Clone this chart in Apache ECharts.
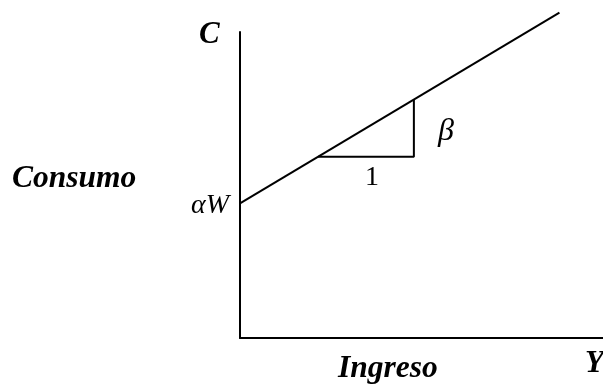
<!DOCTYPE html>
<html>
<head>
<meta charset="utf-8">
<script src="https://cdn.jsdelivr.net/npm/echarts@6/dist/echarts.min.js"></script>
<style>
  html, body { margin: 0; padding: 0; background: #fff; }
  #chart { width: 603px; height: 385px; }
</style>
</head>
<body>
<div id="chart"></div>
<script>
// función de consumo C = αW + βY (unidades arbitrarias, ejes 0..100)
var consumoX = [0, 88];
var consumoY = [44, 106.3];
// triángulo de la pendiente: base "1", altura "β"
var trianguloX = [21.5, 47.9, 47.9];
var trianguloY = [59.2, 59.2, 77.9];

var serif = '"Liberation Serif", "DejaVu Serif", serif';

function pares(xs, ys){
  return xs.map(function(x, i){ return [x, ys[i]]; });
}

var chart = echarts.init(document.getElementById('chart'), null, { renderer: 'canvas' });

chart.setOption({
  animation: false,
  grid: { left: 240, right: 0, top: 32, bottom: 47 },
  xAxis: {
    type: 'value', min: 0, max: 100,
    axisLine: { show: true, lineStyle: { color: '#000', width: 2 } },
    axisTick: { show: false }, axisLabel: { show: false }, splitLine: { show: false }
  },
  yAxis: {
    type: 'value', min: 0, max: 100,
    axisLine: { show: true, lineStyle: { color: '#000', width: 2 } },
    axisTick: { show: false }, axisLabel: { show: false }, splitLine: { show: false }
  },
  series: [
    {
      type: 'line', data: pares(consumoX, consumoY), clip: false,
      symbol: 'none', lineStyle: { color: '#000', width: 2 }
    },
    {
      type: 'line', data: pares(trianguloX, trianguloY), clip: false,
      symbol: 'none', lineStyle: { color: '#000', width: 2 }
    }
  ],
  graphic: [
    { type: 'text', left: 199, top: 19, style: { text: 'C', font: 'bold italic 31px ' + serif, fill: '#000' } },
    { type: 'text', left: 12, top: 163, style: { text: 'Consumo', font: 'bold italic 31.5px ' + serif, fill: '#000' } },
    { type: 'text', right: 374, top: 192, style: { text: 'αW', font: 'italic 28px ' + serif, fill: '#000' } },
    { type: 'text', left: 438, top: 116, style: { text: 'β', font: 'italic 32px ' + serif, fill: '#000' } },
    { type: 'text', left: 365, top: 164, style: { text: '1', font: '28px ' + serif, fill: '#000' } },
    { type: 'text', left: 338, top: 353, style: { text: 'Ingreso', font: 'bold italic 31.5px ' + serif, fill: '#000' } },
    { type: 'text', left: 585, top: 348, style: { text: 'Y', font: 'bold italic 31px ' + serif, fill: '#000' } }
  ]
});
</script>
</body>
</html>
